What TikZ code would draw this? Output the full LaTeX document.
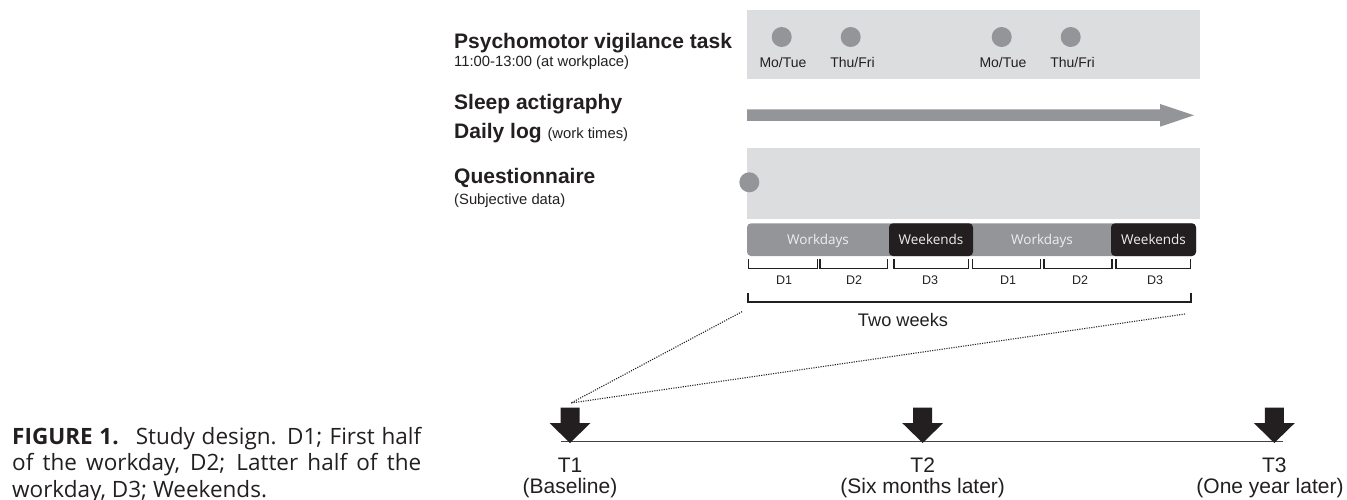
\documentclass[tikz,border=0pt]{standalone}
\usepackage{fontspec}
\setmainfont{Liberation Sans}
\newfontfamily\capfont{Open Sans}
\definecolor{boxgray}{HTML}{DCDDDE}
\definecolor{midgray}{HTML}{939598}
\definecolor{ink}{HTML}{231F20}
\definecolor{lightw}{HTML}{EEEEEE}
\tikzset{
  panel/.style={fill=boxgray, inner sep=0, anchor=north west},
  dot/.style={circle, fill=midgray, minimum size=20pt, inner sep=0},
  lefttitle/.style={font=\fontsize{21}{25}\selectfont\bfseries, text=ink, anchor=base west, inner sep=0},
  leftsub/.style={font=\fontsize{14.8}{18}\selectfont, text=ink, anchor=base west, inner sep=0},
  daylbl/.style={font=\fontsize{14}{16}\selectfont, text=ink, anchor=base, inner sep=0},
  dlbl/.style={font=\fontsize{12.5}{15}\selectfont, text=ink, anchor=base, inner sep=0},
  barlbl/.style={font=\capfont\fontsize{13.5}{16}\selectfont, text=lightw, anchor=base, inner sep=0},
  tlbl/.style={font=\fontsize{21}{25}\selectfont, text=ink, anchor=base, inner sep=0},
  brk/.style={draw=ink, line width=1.2pt},
  dots/.style={draw=ink, line width=1.1pt, dash pattern=on 1.1pt off 1.3pt},
  tarrow/.pic={\fill[ink] (-9.5,0) -- (9.5,0) -- (9.5,15.3) -- (20.5,15.3) -- (0,35.3) -- (-20.5,15.3) -- (-9.5,15.3) -- cycle;}
}
\begin{document}
\begin{tikzpicture}[x=1pt,y=-1pt]
\useasboundingbox (0,0) rectangle (1347,500);
% left labels
\node[lefttitle] (pvt) at (454,48.3) {Psychomotor vigilance task};
\node[leftsub] (pvtsub) at (454,66.5) {11:00-13:00 (at workplace)};
\node[lefttitle] (sleep) at (454,110) {Sleep actigraphy};
\node[lefttitle] (daily) at (454,138.3) {Daily log {\mdseries\fontsize{14.8}{18}\selectfont (work times)}};
\node[lefttitle] (quest) at (454,183.3) {Questionnaire};
\node[leftsub] (questsub) at (454,204.5) {(Subjective data)};
% PVT panel
\node[panel, minimum width=453pt, minimum height=69pt] (pvtbox) at (747,10) {};
\node[dot] (c1) at (781.7,37) {};
\node[dot] (c2) at (850.7,37) {};
\node[dot] (c3) at (1001.7,37) {};
\node[dot] (c4) at (1070.7,37) {};
\node[daylbl] (l1) at (783,67.3) {Mo/Tue};
\node[daylbl] (l2) at (852.5,67.3) {Thu/Fri};
\node[daylbl] (l3) at (1003,67.3) {Mo/Tue};
\node[daylbl] (l4) at (1072.5,67.3) {Thu/Fri};
% actigraphy arrow
\fill[midgray] (747,109.5) -- (1160,109.5) -- (1160,104) -- (1194,115.3) -- (1160,126.7) -- (1160,121) -- (747,121) -- cycle;
% questionnaire panel
\node[panel, minimum width=453pt, minimum height=70.3pt] (qbox) at (747,148) {};
\node[dot] (cq) at (749.3,182.3) {};
% workdays / weekends bar
\fill[midgray, rounded corners=4pt] (747,223.3) rectangle (1196,256);
\fill[ink, rounded corners=4pt] (889,223.3) rectangle (973,256);
\fill[ink, rounded corners=4pt] (1111,223.3) rectangle (1196,256);
\node[barlbl] (w1) at (818,244.3) {Workdays};
\node[barlbl] (we1) at (931,244.3) {Weekends};
\node[barlbl] (w2) at (1042,244.3) {Workdays};
\node[barlbl] (we2) at (1153.5,244.3) {Weekends};
% D brackets
\foreach \a/\b in {748.3/817.3, 820/887.3, 894/968.7, 972.7/1040.7, 1044/1112, 1116/1190.7}
  \draw[brk] (\a,259.3) -- (\a,268.3) -- (\b,268.3) -- (\b,259.3);
\node[dlbl] (d1) at (784,284) {D1};
\node[dlbl] (d2) at (854,284) {D2};
\node[dlbl] (d3) at (930,284) {D3};
\node[dlbl] (d4) at (1008,284) {D1};
\node[dlbl] (d5) at (1080,284) {D2};
\node[dlbl] (d6) at (1155,284) {D3};
% two weeks bracket
\draw[brk] (748,293) -- (748,302) -- (1191,302) -- (1191,293);
\node[font=\fontsize{18.2}{22}\selectfont, text=ink, anchor=base, inner sep=0] (tw) at (903,326) {Two weeks};
% timeline
\coordinate (tlstart) at (561,441.7);
\coordinate (tlend) at (1283,441.7);
\draw[draw=ink!85, line width=1.5pt] (tlstart) -- (tlend);
\pic at (570,407.7) {tarrow};
\pic at (922.7,407.7) {tarrow};
\pic at (1274.3,407.7) {tarrow};
\coordinate (t1top) at (571,403);
\coordinate (zl) at (742,311.7);
\coordinate (zr) at (1185,314);
\draw[dots] (zl) -- (t1top);
\draw[dots] (zr) -- (t1top);
\node[tlbl] (t1) at (570,472.7) {T1};
\node[tlbl] (t1s) at (570,493.3) {(Baseline)};
\node[tlbl] (t2) at (922.7,472.7) {T2};
\node[tlbl] (t2s) at (922.7,493.3) {(Six months later)};
\node[tlbl] (t3) at (1274.3,472.7) {T3};
\node[tlbl] (t3s) at (1270,493.3) {(One year later)};
% caption
\node[anchor=north west, inner sep=0, text width=409pt, align=justify, text=ink,
  font=\capfont\fontsize{22.5}{26.3}\selectfont] (cap) at (12,427)
  {\textbf{FIGURE 1.}\hspace{17pt}Study design. D1; First half\linebreak of the workday, D2; Latter half of the\linebreak workday, D3; Weekends.};
\end{tikzpicture}
\end{document}
